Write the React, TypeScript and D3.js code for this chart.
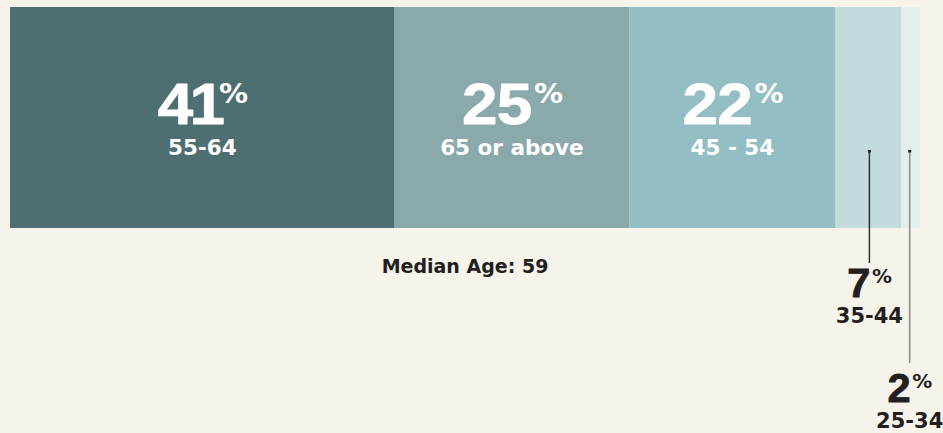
import React from "react";
import * as d3 from "d3";

const categories = ["55-64", "65 or above", "45 - 54", "35-44", "25-34"];
const values = [41, 25, 22, 7, 2];
const colors = ["#4e6f71", "#8aa9ab", "#93bec4", "#c3dbdd", "#e3f0f0"];
const medianLabel = "Median Age: 59";

const W = 943;
const H = 433;
const BAR = { x0: 10, x1: 920, y0: 7, y1: 228 };
const BIG_FONT = "'Liberation Sans', Arial, sans-serif";
const LABEL_FONT = "'DejaVu Sans', sans-serif";

function BigValue({
  cx,
  y,
  v,
  size,
  pctSize,
  pctDy,
  scale,
  slot,
  fill,
  stroke,
}: {
  cx: number;
  y: number;
  v: number;
  size: number;
  pctSize: number;
  pctDy: number;
  scale: number;
  slot: number;
  fill: string;
  stroke: number;
}) {
  const chars = String(v).split("");
  const widths = chars.map((c) => (c === "1" ? 0.42 * size : slot * size));
  const numW = d3.sum(widths);
  const pctW = 0.95 * pctSize;
  const gap = 2;
  const total = numW + gap + pctW;
  const left = cx - total / 2;
  let acc = 0;
  const starts = chars.map((c, j) => {
    const mid = acc + widths[j] / 2 + (c === "1" ? 0.04 * size : 0);
    acc += widths[j];
    return mid / scale - 0.278 * size;
  });
  return (
    <text
      transform={`translate(${left},${y}) scale(${scale},1)`}
      fill={fill}
      fontWeight="bold"
    >
      {chars.map((c, j) => (
        <tspan
          key={j}
          x={starts[j]}
          y={0}
          fontFamily={BIG_FONT}
          fontSize={size}
          stroke={fill}
          strokeWidth={stroke}
          strokeLinejoin="round"
        >
          {c}
        </tspan>
      ))}
      <tspan
        x={(numW + gap) / scale}
        y={pctDy}
        fontFamily={LABEL_FONT}
        fontSize={pctSize / scale}
      >
        %
      </tspan>
    </text>
  );
}

export default function App() {
  const total = d3.sum(values);
  const x = d3.scaleLinear().domain([0, total]).range([BAR.x0, BAR.x1]);
  const starts = values.map((_, i) => d3.sum(values.slice(0, i)));
  let outsideIdx = 0;
  return (
    <svg
      width={W}
      height={H}
      style={{ position: "absolute", left: 0, top: 0, display: "block" }}
    >
      <rect x={0} y={0} width={W} height={H} fill="#f6f3eb" />
      {values.map((v, i) => {
        const xa = x(starts[i]);
        const xb = x(starts[i] + v);
        return (
          <rect
            key={"b" + i}
            x={xa}
            y={BAR.y0}
            width={xb - xa}
            height={BAR.y1 - BAR.y0}
            fill={colors[i]}
          />
        );
      })}
      {values.map((v, i) => {
        const xa = x(starts[i]);
        const xb = x(starts[i] + v);
        const cx = (xa + xb) / 2;
        if (v >= 10) {
          return (
            <g key={"l" + i}>
              <BigValue
                cx={cx}
                y={124}
                v={v}
                size={58}
                pctSize={29}
                pctDy={-21}
                scale={1.1}
                slot={0.6}
                fill="#ffffff"
                stroke={0.8}
              />
              <text
                x={cx}
                y={155}
                textAnchor="middle"
                fill="#ffffff"
                fontWeight="bold"
                fontFamily={LABEL_FONT}
                fontSize={21.5}
              >
                {categories[i]}
              </text>
            </g>
          );
        }
        const k = outsideIdx++;
        const lx = k === 0 ? xa + (xb - xa) * 0.5 + 1 : xa + (xb - xa) * 0.45;
        const base = 297 + k * 105;
        const lineEnd = base - 34 - k * 5;
        return (
          <g key={"l" + i}>
            <line
              x1={lx}
              x2={lx}
              y1={151}
              y2={lineEnd}
              stroke={k === 0 ? "#333333" : "#8a8a8a"}
              strokeWidth={1.5}
            />
            <rect x={lx - 1.5} y={150} width={3} height={2.5} fill="#222222" />
            <BigValue
              cx={lx}
              y={base}
              v={v}
              size={40}
              pctSize={20}
              pctDy={-14}
              scale={1.04}
              slot={0.55}
              fill="#231f20"
              stroke={0.8}
            />
            <text
              x={lx}
              y={base + 26}
              textAnchor="middle"
              fill="#231f20"
              fontWeight="bold"
              fontFamily={LABEL_FONT}
              fontSize={21}
            >
              {categories[i]}
            </text>
          </g>
        );
      })}
      <text
        x={(BAR.x0 + BAR.x1) / 2}
        y={273}
        textAnchor="middle"
        fill="#231f20"
        fontWeight="bold"
        fontFamily={LABEL_FONT}
        fontSize={19}
      >
        {medianLabel}
      </text>
    </svg>
  );
}
